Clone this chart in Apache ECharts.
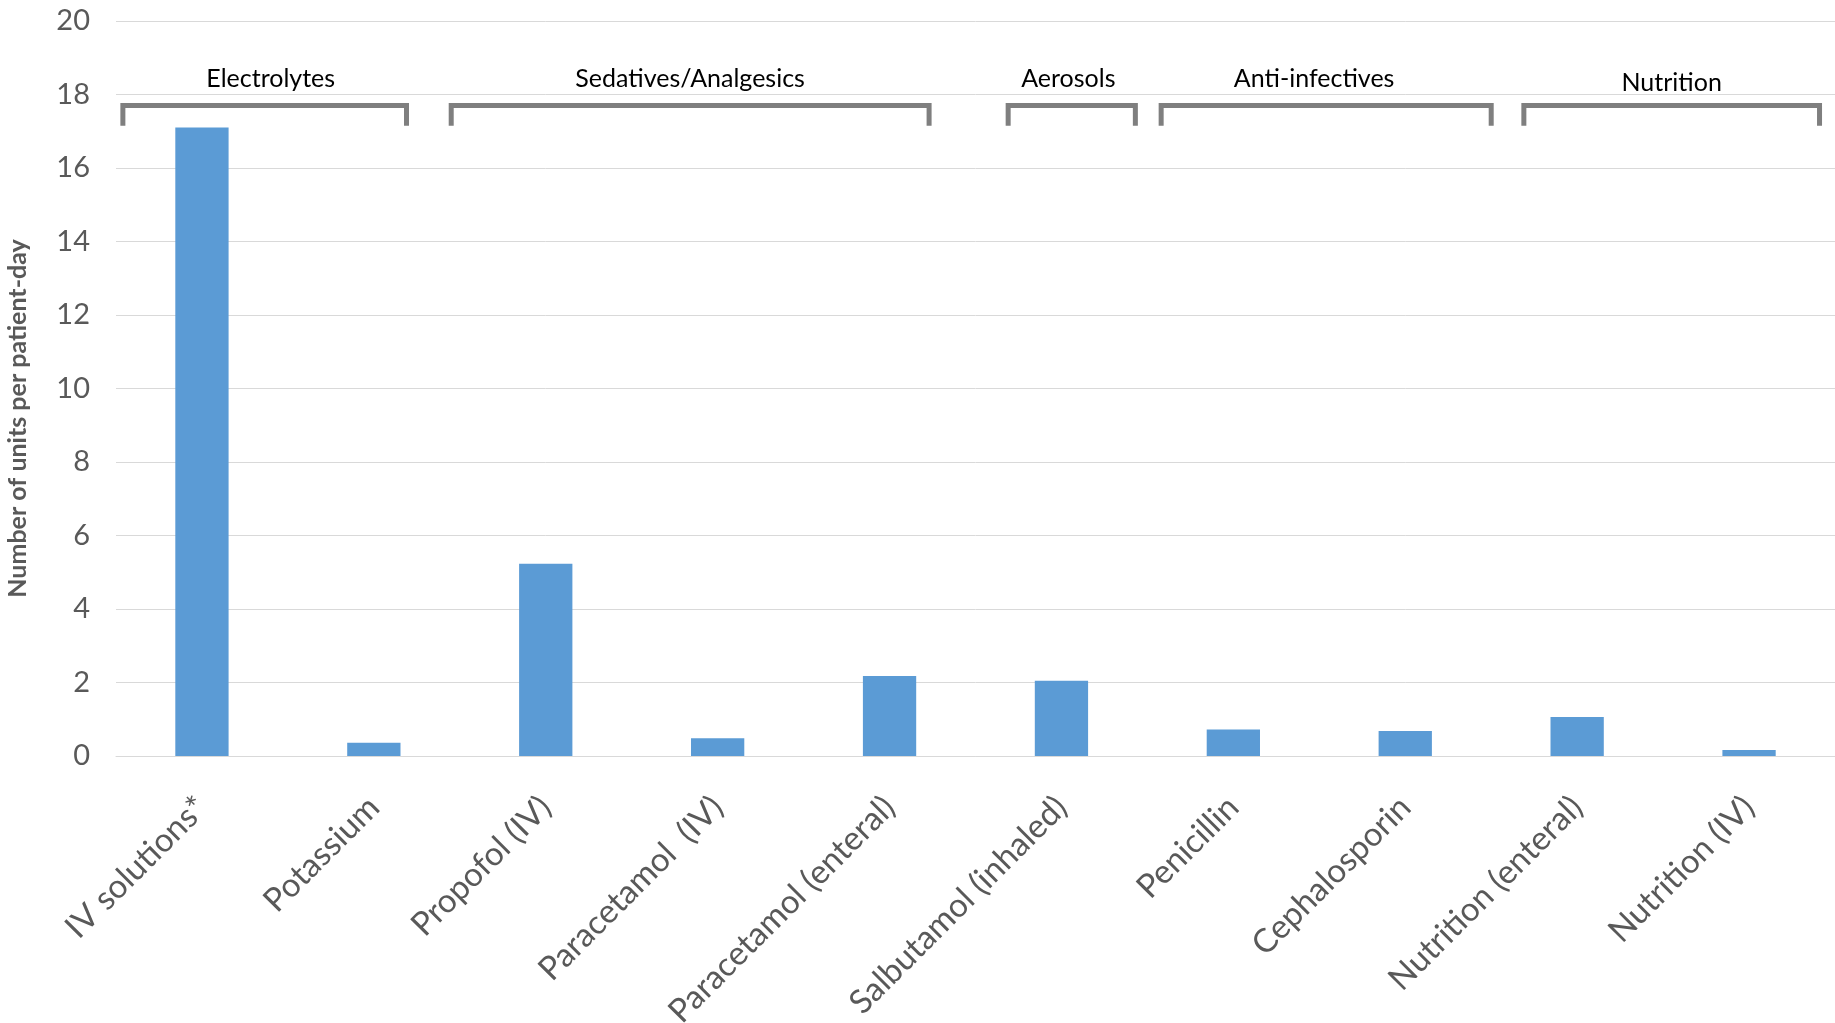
<!DOCTYPE html>
<html>
<head>
<meta charset="utf-8">
<script src="https://cdn.jsdelivr.net/npm/echarts@6/dist/echarts.min.js"></script>
<style>
  html, body { margin: 0; padding: 0; background: #fff; }
  #chart { width: 1835px; height: 1023px; }
</style>
</head>
<body>
<div id="chart"></div>
<script>
// Drug categories along the x axis
const categories = [
  'IV solutions*', 'Potassium', 'Propofol (IV)', 'Paracetamol  (IV)',
  'Paracetamol (enteral)', 'Salbutamol (inhaled)', 'Penicillin',
  'Cephalosporin', 'Nutrition (enteral)', 'Nutrition (IV)'
];

// Units per patient-day
const unitsPerPatientDay = [17.1, 0.36, 5.23, 0.48, 2.18, 2.05, 0.72, 0.68, 1.06, 0.16];

// Y axis scale
const yMin = 0, yMax = 20, yStep = 2;

// Group brackets: name, bracket edges and label centre (in category units), heights in data units
const groupNames  = ['Electrolytes', 'Sedatives/Analgesics', 'Aerosols', 'Anti-infectives', 'Nutrition'];
const groupStart  = [-0.46, 1.45, 4.69, 5.58, 7.69];
const groupEnd    = [1.19, 4.23, 5.43, 7.50, 9.41];
const labelCenter = [0.40, 2.84, 5.04, 6.47, 8.55];
const bracketTop  = [17.7, 17.7, 17.7, 17.7, 17.7];
const bracketLeg  = [17.15, 17.15, 17.15, 17.15, 17.15];
const labelLevel  = [18.42, 18.42, 18.42, 18.42, 18.32];

const FONT = 'Lato, "Open Sans", sans-serif';
const chart = echarts.init(document.getElementById('chart'));

const groupData = groupNames.map((n, i) => [i, groupStart[i], groupEnd[i], bracketTop[i], bracketLeg[i], labelLevel[i], labelCenter[i]]);

chart.setOption({
  animation: false,
  grid: { left: 116, right: 0, top: 21, bottom: 267, containLabel: false, outerBoundsMode: 'none' },
  xAxis: {
    type: 'category',
    data: categories,
    axisLine: { show: true, lineStyle: { color: '#d9d9d9', width: 1 } },
    axisTick: { show: false },
    axisLabel: {
      rotate: 45, interval: 0, margin: 46,
      fontFamily: FONT, fontSize: 33, color: '#595959'
    }
  },
  yAxis: {
    type: 'value',
    min: yMin, max: yMax, interval: yStep,
    name: 'Number of units per patient-day',
    nameLocation: 'middle',
    nameGap: 86,
    nameTextStyle: { fontFamily: FONT, fontSize: 25, fontWeight: 'bold', color: '#595959', padding: [0, 60, 0, 0] },
    axisLine: { show: false },
    axisTick: { show: false },
    axisLabel: { fontFamily: FONT, fontSize: 29, color: '#595959', margin: 26 },
    splitLine: { show: true, lineStyle: { color: '#d9d9d9', width: 1 } }
  },
  series: [
    {
      type: 'bar',
      data: unitsPerPatientDay,
      barWidth: '31%',
      itemStyle: { color: '#5b9bd5' },
      z: 2
    },
    {
      // Bracket + label above each drug group
      type: 'custom',
      data: groupData,
      encode: { x: 1, y: 3 },
      silent: true,
      z: 3,
      renderItem: function (params, api) {
        const s = api.value(1), e = api.value(2);
        const top = api.value(3), leg = api.value(4), lab = api.value(5), mid = api.value(6);
        const band = api.size([1, 0])[0];
        const origin = api.coord([0, top]);
        const x0 = origin[0] + s * band;
        const x1 = origin[0] + e * band;
        const xm = origin[0] + mid * band;
        const yTop = origin[1];
        const yLeg = api.coord([0, leg])[1];
        const yLab = api.coord([0, lab])[1];
        return {
          type: 'group',
          children: [
            {
              type: 'polyline',
              shape: { points: [[x0, yLeg], [x0, yTop], [x1, yTop], [x1, yLeg]] },
              style: { stroke: '#7f7f7f', lineWidth: 5, fill: null, lineJoin: 'miter' }
            },
            {
              type: 'text',
              style: {
                text: groupNames[api.value(0)],
                x: xm, y: yLab,
                align: 'center', verticalAlign: 'middle',
                fontFamily: FONT, fontSize: 25, fill: '#000'
              }
            }
          ]
        };
      }
    }
  ]
});
</script>
</body>
</html>
